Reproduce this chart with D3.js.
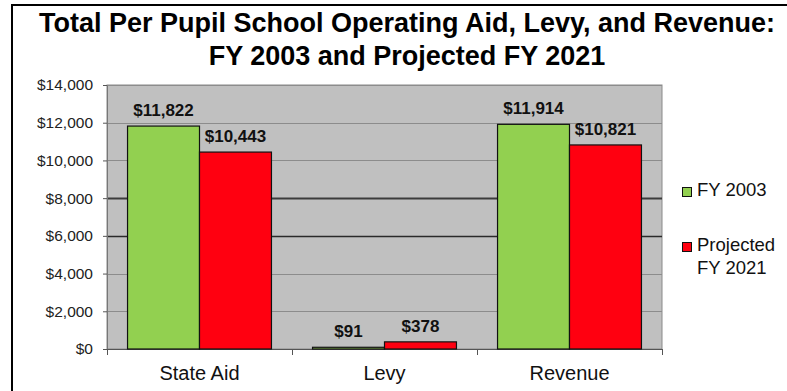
<!DOCTYPE html>
<html>
<head>
<meta charset="utf-8">
<script src="https://cdn.jsdelivr.net/npm/d3@7"></script>
<style>
  html, body { margin: 0; padding: 0; background: #fff; }
  svg { display: block; font-family: "Liberation Sans", Arial, sans-serif; }
</style>
</head>
<body>
<svg id="chart" width="787" height="391"></svg>
<script>
// Per-pupil operating figures, in dollars
const categories = ["State Aid", "Levy", "Revenue"];
const seriesNames = ["FY 2003", "Projected FY 2021"];
const fy2003 = [11822, 91, 11914];
const fy2021 = [10443, 378, 10821];
const yTicks = [0, 2000, 4000, 6000, 8000, 10000, 12000, 14000];
const seriesColors = ["#92d050", "#ff0010"];

const svg = d3.select("#chart");
const W = 787, H = 391;
const plot = { left: 107, right: 662, top: 85, bottom: 349 };

// outer frame
svg.append("path")
  .attr("d", `M12,${H + 5} L12,5 L${W + 5},5`)
  .attr("fill", "none").attr("stroke", "#000").attr("stroke-width", 2);

// title
const title = svg.append("text")
  .attr("text-anchor", "middle")
  .attr("font-weight", "bold")
  .attr("font-size", 27)
  .attr("fill", "#000");
title.append("tspan").attr("x", 407).attr("y", 32).text("Total Per Pupil School Operating Aid, Levy, and Revenue:");
title.append("tspan").attr("x", 407).attr("y", 65).text("FY 2003 and Projected FY 2021");

const x0 = d3.scaleBand().domain(categories).range([plot.left, plot.right])
  .paddingInner(0.222).paddingOuter(0.111);
const x1 = d3.scaleBand().domain(seriesNames).range([0, x0.bandwidth()]);
const y = d3.scaleLinear().domain([0, 14000]).range([plot.bottom, plot.top]);

// plot background
svg.append("rect")
  .attr("x", plot.left).attr("y", plot.top)
  .attr("width", plot.right - plot.left).attr("height", plot.bottom - plot.top)
  .attr("fill", "#c0c0c0").attr("stroke", "#8a8a8a").attr("stroke-width", 1);

// horizontal gridlines
const gridStyle = { 8000: ["#3c3c3c", 2], 6000: ["#2a2a2a", 1.4] };
svg.append("g").selectAll("line")
  .data(yTicks.filter(d => d > 0))
  .join("line")
  .attr("x1", plot.left).attr("x2", plot.right)
  .attr("y1", d => Math.round(y(d)) + 0.5).attr("y2", d => Math.round(y(d)) + 0.5)
  .attr("stroke", d => gridStyle[d] ? gridStyle[d][0] : "#8c8c8c")
  .attr("stroke-width", d => gridStyle[d] ? gridStyle[d][1] : 1);

// y axis
const yAxis = svg.append("g")
  .attr("transform", `translate(${plot.left},0)`)
  .call(d3.axisLeft(y).tickValues(yTicks).tickSize(4).tickPadding(10)
    .tickFormat(d => "$" + d3.format(",")(d)));
yAxis.select(".domain").attr("stroke", "#777");
yAxis.selectAll(".tick line").attr("stroke", "#555");
yAxis.selectAll("text").attr("font-size", 15.5).attr("fill", "#222")
  .attr("font-family", "'Liberation Sans', Arial, sans-serif");

// x axis with category separators
const xAxisG = svg.append("g").attr("transform", `translate(0,${plot.bottom})`);
xAxisG.append("line").attr("x1", plot.left).attr("x2", plot.right)
  .attr("y1", 0.5).attr("y2", 0.5).attr("stroke", "#555");
const step = x0.step();
xAxisG.selectAll("line.sep")
  .data(d3.range(categories.length + 1))
  .join("line").attr("class", "sep")
  .attr("x1", i => Math.round(plot.left + i * step) + 0.5)
  .attr("x2", i => Math.round(plot.left + i * step) + 0.5)
  .attr("y1", 0).attr("y2", 6).attr("stroke", "#555");
xAxisG.selectAll("text")
  .data(categories)
  .join("text")
  .attr("x", d => x0(d) + x0.bandwidth() / 2)
  .attr("y", 31)
  .attr("text-anchor", "middle")
  .attr("font-size", 20)
  .attr("fill", "#111")
  .text(d => d);

// bars
const rows = categories.map((c, i) => ({ cat: c, values: [fy2003[i], fy2021[i]] }));
const groups = svg.append("g").selectAll("g")
  .data(rows).join("g")
  .attr("transform", d => `translate(${x0(d.cat)},0)`);

groups.selectAll("rect")
  .data(d => d.values.map((v, j) => ({ v, s: seriesNames[j], j })))
  .join("rect")
  .attr("x", d => x1(d.s))
  .attr("width", x1.bandwidth())
  .attr("y", d => y(d.v))
  .attr("height", d => y(0) - y(d.v))
  .attr("fill", d => seriesColors[d.j])
  .attr("stroke", "#111").attr("stroke-width", 1.2);

groups.selectAll("text")
  .data(d => d.values.map((v, j) => ({ v, s: seriesNames[j] })))
  .join("text")
  .attr("x", d => x1(d.s) + x1.bandwidth() / 2)
  .attr("y", d => y(d.v) - 10)
  .attr("text-anchor", "middle")
  .attr("font-weight", "bold")
  .attr("font-size", 17)
  .attr("fill", "#111")
  .text(d => "$" + d3.format(",")(d.v));

// legend
const legend = svg.append("g");
const legendItems = [
  { name: seriesNames[0], lines: ["FY 2003"], y: 187, color: seriesColors[0] },
  { name: seriesNames[1], lines: ["Projected", "FY 2021"], y: 242, color: seriesColors[1] }
];
legendItems.forEach(item => {
  legend.append("rect")
    .attr("x", 682.5).attr("y", item.y + 0.5)
    .attr("width", 9).attr("height", 9)
    .attr("fill", item.color).attr("stroke", "#111").attr("stroke-width", 1);
  const t = legend.append("text").attr("font-size", 18.5).attr("fill", "#111");
  item.lines.forEach((ln, k) => {
    t.append("tspan").attr("x", 697).attr("y", item.y + 9 + k * 23).text(ln);
  });
});
</script>
</body>
</html>
